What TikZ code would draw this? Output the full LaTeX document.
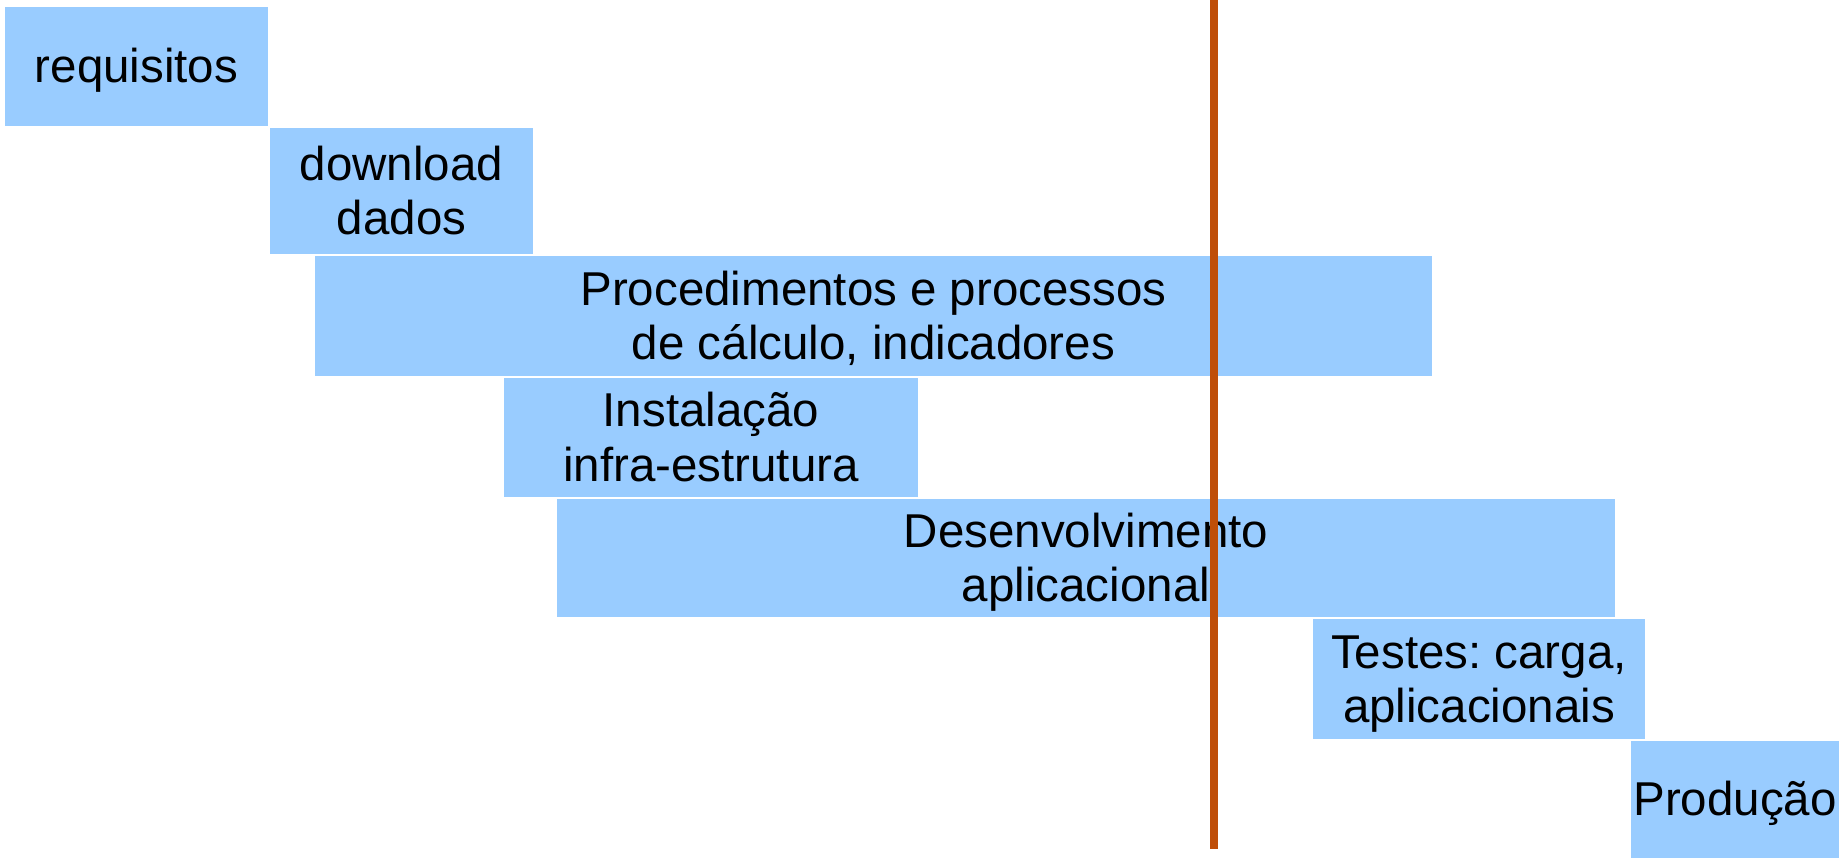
\documentclass[tikz,border=0pt]{standalone}
\usepackage{fontspec}
\setmainfont{Liberation Sans}
\frenchspacing
\definecolor{barblue}{HTML}{99CCFF}
\definecolor{nowline}{RGB}{191,78,8}
\newcommand\ppstrut{\rule[-0.212em]{0pt}{1.117em}}
\begin{document}
\begin{tikzpicture}[x=1pt,y=-1pt,
  bar/.style={fill=barblue, draw=none, inner sep=0pt, align=center,
    font=\fontsize{47.5}{54.6}\selectfont},
  nowmark/.style={draw=nowline, line width=8pt}]
\useasboundingbox (0,0) rectangle (1839,858);
\node[bar, minimum width=263pt, minimum height=119pt] (req) at (136.5,66.5) {requisitos\ppstrut};
\node[bar, minimum width=263pt, minimum height=126pt] (dl) at (401.5,191) {download\ppstrut\\dados\ppstrut};
\node[bar, minimum width=1117pt, minimum height=120pt] (proc) at (873.5,316) {Procedimentos e processos\ppstrut\\de cálculo, indicadores\ppstrut};
\node[bar, minimum width=414pt, minimum height=119pt] (inst) at (711,437.5) {Instalação\ppstrut\\infra-estrutura\ppstrut};
\node[bar, minimum width=1058pt, minimum height=118pt] (dev) at (1086,558) {Desenvolvimento\ppstrut\\aplicacional\ppstrut};
\node[bar, minimum width=332pt, minimum height=120pt] (test) at (1479,679) {Testes: carga,\ppstrut\\aplicacionais\ppstrut};
\node[bar, minimum width=208pt, minimum height=117pt] (prod) at (1735,799.5) {Produção\ppstrut};
\coordinate (nowtop) at (1214,0);
\coordinate (nowbot) at (1214,849);
\draw[nowmark] (nowtop) -- (nowbot);
\end{tikzpicture}
\end{document}
